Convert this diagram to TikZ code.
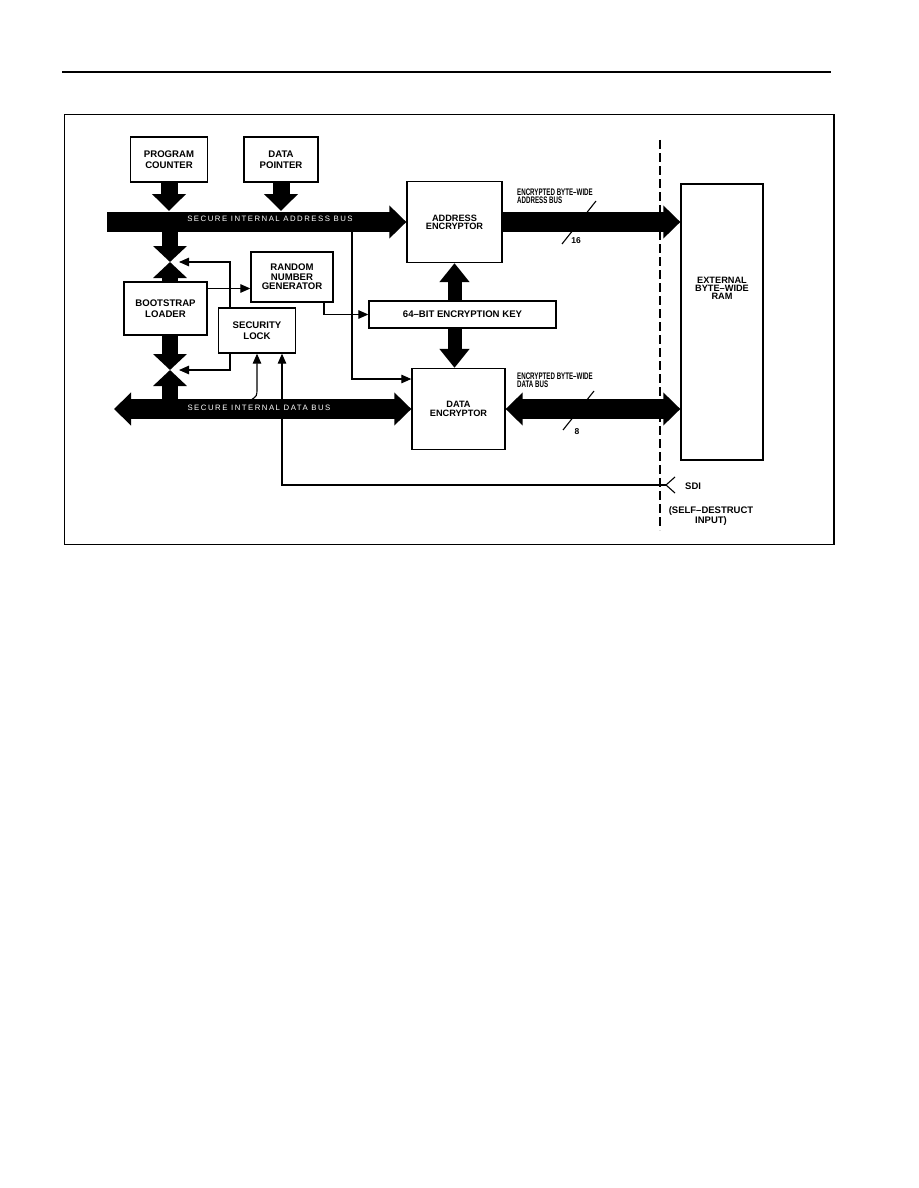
\documentclass[tikz,border=0pt]{standalone}
\usepackage{fontspec}
\setmainfont{Liberation Sans}
\newfontfamily\narrowfont[FakeStretch=0.65]{Liberation Sans}
\newfontfamily\busfont[LetterSpace=19]{Liberation Sans}
\usetikzlibrary{arrows.meta,positioning}
\pgfdeclarelayer{bg}
\pgfsetlayers{bg,main}
\tikzset{
    blk/.style={draw, line width=1.3pt, fill=white, inner sep=0pt, align=center,
        font=\fontsize{9.6}{11}\selectfont\bfseries},
    tightbox/.style={font=\fontsize{9.2}{8.3}\selectfont\bfseries},
    thinline/.style={line width=1.1pt},
    thinarrow/.style={line width=1.1pt, -{Triangle[length=10pt,width=8.5pt]}},
    busarrow/.style={line width=20pt, -{Triangle[length=17pt,width=32pt]}},
    dblbusarrow/.style={line width=20pt, {Triangle[length=17pt,width=32pt]}-{Triangle[length=17pt,width=32pt]}},
    feedarrow/.style={line width=17pt, -{Triangle[length=17pt,width=33pt]}},
    tiearrow/.style={line width=16pt, -{Triangle[length=16pt,width=33pt]}},
    keyarrow/.style={line width=14pt, -{Triangle[length=19pt,width=29pt]}},
    buslabel/.style={text=white, inner sep=0pt, font=\busfont\fontsize{7.8}{8}\selectfont},
    notetext/.style={inner sep=0pt, align=left, font=\narrowfont\fontsize{9.5}{8}\selectfont\bfseries},
    plaintext/.style={inner sep=0pt, align=center, font=\fontsize{9.5}{9.5}\selectfont\bfseries}
}

\begin{document}
\begin{tikzpicture}
        \useasboundingbox (0pt,0pt) rectangle (918pt,-1188pt);
        \node (pc) [blk, minimum width=77pt, minimum height=45pt] at (169pt, -159.5pt) {PROGRAM\\COUNTER};
        \node (dp) [blk, minimum width=74pt, minimum height=45pt] at (281pt, -159.5pt) {DATA\\POINTER};
        \node (aenc) [blk, tightbox, minimum width=95pt, minimum height=81pt] at (454.5pt, -222pt) {ADDRESS\\ENCRYPTOR};
        \node (denc) [blk, tightbox, minimum width=93pt, minimum height=81pt] at (458.5pt, -409pt) {DATA\\ENCRYPTOR};
        \node (ram) [blk, minimum width=82pt, minimum height=276pt] at (722pt, -322pt) {};
        \node (ramtext) [blk, draw=none, fill=none, tightbox, below=93pt of ram.north] {EXTERNAL\\BYTE–WIDE\\RAM};
        \node (rng) [blk, minimum width=82pt, minimum height=50pt, font=\fontsize{9.6}{9.5}\selectfont\bfseries] at (292pt, -277pt) {RANDOM\\NUMBER\\GENERATOR};
        \node (boot) [blk, minimum width=83pt, minimum height=53pt] at (165.5pt, -308.5pt) {BOOTSTRAP\\LOADER};
        \node (lock) [blk, minimum width=77pt, minimum height=45pt] at (257pt, -330.5pt) {SECURITY\\LOCK};
        \node (key) [blk, minimum width=187pt, minimum height=27pt] at (462.5pt, -314.5pt) {64–BIT ENCRYPTION KEY};
        \coordinate (abus) at (107pt, -222pt);
        \coordinate (dbus) at (114pt, -409pt);
        \coordinate (tieA) at (170pt, -262pt);
        \coordinate (tieB) at (170pt, -370pt);
        \coordinate (atap) at (352pt, -222pt);
        \coordinate (dtap) at (251pt, -400pt);
        \coordinate (sdi) at (666pt, -485pt);
        \node (abuslabel) [buslabel] at (270pt, -219pt) {SECURE INTERNAL ADDRESS BUS};
        \node (dbuslabel) [buslabel] at (259pt, -408pt) {SECURE INTERNAL DATA BUS};
        \node (aextlabel) [notetext, anchor=north west] at (517pt, -189pt) {ENCRYPTED BYTE–WIDE\\ADDRESS BUS};
        \node (dextlabel) [notetext, anchor=north west] at (517pt, -373pt) {ENCRYPTED BYTE–WIDE\\DATA BUS};
        \node (awidth) [plaintext, font=\fontsize{8.5}{8.5}\selectfont\bfseries] at (576pt, -241pt) {16};
        \node (dwidth) [plaintext, font=\fontsize{8.5}{8.5}\selectfont\bfseries] at (577pt, -432pt) {8};
        \node (sdilabel) [plaintext, anchor=west] at (685pt, -486pt) {SDI};
        \node (sdinote) [plaintext] at (711pt, -516pt) {(SELF–DESTRUCT\\INPUT)};
        \begin{pgfonlayer}{bg}
                \fill [white] (0pt,0pt) rectangle (918pt,-1188pt);
                \draw [line width=2pt] (62pt,-72pt) -- (831pt,-72pt);
                \draw [line width=1.3pt] (64.5pt,-114.5pt) rectangle (834pt,-544.5pt);
                \draw [line width=1.8pt, dash pattern=on 9pt off 4pt] (660pt,-140pt) -- (660pt,-530pt);
                % control lines
                \draw [thinarrow] ([yshift=20pt]boot.east) -- ([yshift=20pt]boot.east -| rng.west);
                \draw [thinarrow] ([xshift=-27pt]lock.north) |- ([xshift=9pt]tieA);
                \draw [thinarrow] ([xshift=-27pt]lock.south) |- ([xshift=9pt]tieB);
                \draw [thinarrow] (dtap) .. controls (257pt,-396pt) .. (257pt,-388pt) -- (lock.south);
                \draw [thinarrow] (sdi) -| ([xshift=25pt]lock.south);
                \draw [thinline] (675pt,-477pt) -- (sdi) -- (675pt,-493pt);
                \draw [thinarrow] (atap) |- ([yshift=30pt]denc.west);
                \draw [thinarrow] ([xshift=32pt]rng.south) |- (key.west);
                \draw [thinline] (562pt,-244pt) -- (596pt,-201pt);
                \draw [thinline] (563pt,-430pt) -- (594pt,-391pt);
                % buses
                \draw [feedarrow, shorten >=11pt] (pc.south) -- (pc.south |- abus);
                \draw [feedarrow, shorten >=11pt] (dp.south) -- (dp.south |- abus);
                \draw [busarrow] (abus) -- (aenc.west);
                \draw [busarrow] (aenc.east) -- (aenc.east -| ram.west);
                \draw [dblbusarrow] (dbus) -- (denc.west);
                \draw [dblbusarrow] (denc.east) -- (denc.east -| ram.west);
                \draw [tiearrow] (tieA |- abus) -- (tieA);
                \draw [tiearrow] (boot.north -| tieA) -- (tieA);
                \draw [tiearrow] (boot.south -| tieB) -- (tieB);
                \draw [tiearrow] (tieB |- dbus) -- (tieB);
                \draw [keyarrow] (key.north -| aenc.south) -- (aenc.south);
                \draw [keyarrow] (key.south -| aenc.south) -- (denc.north -| aenc.south);
        \end{pgfonlayer}
\end{tikzpicture}
\end{document}
